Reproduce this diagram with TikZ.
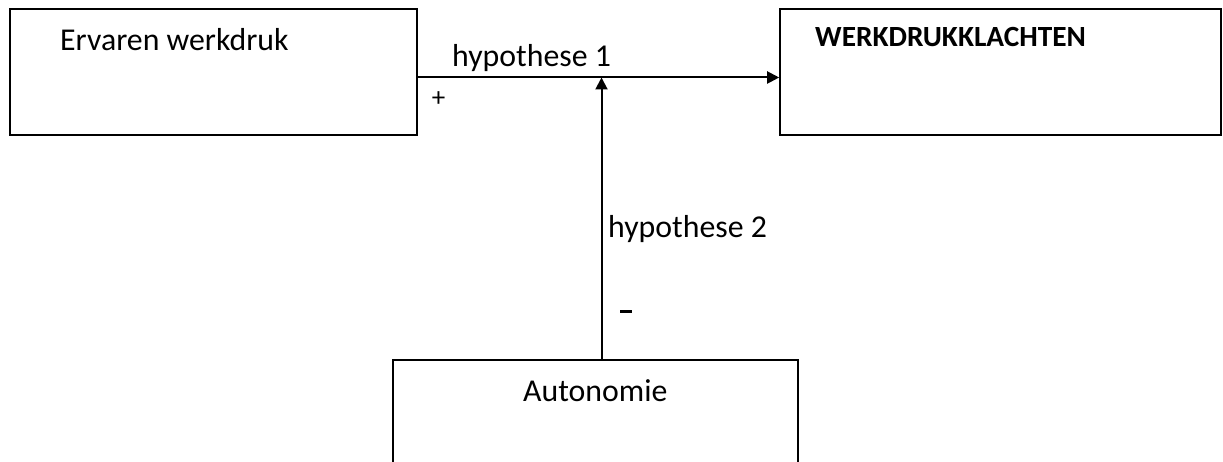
\documentclass[tikz,border=0pt]{standalone}
\usepackage{fontspec}
\setmainfont{Carlito}
\usetikzlibrary{arrows.meta}
\begin{document}
\begin{tikzpicture}[x=1pt,y=-1pt,
  box/.style={draw,line width=1.6pt,inner sep=0pt,rectangle},
  conn/.style={line width=2pt,-{Triangle[length=12pt,width=12pt]}},
  txt/.style={anchor=base west,inner sep=0pt,font=\fontsize{31.8}{38}\selectfont}]
\useasboundingbox (0,0) rectangle (1223,462);
\clip (0,0) rectangle (1223,462);
\node[box,minimum width=407pt,minimum height=126pt] (b1) at (213.5,72) {};
\node[box,minimum width=441pt,minimum height=126pt] (b2) at (1000.5,72) {};
\node[box,minimum width=405pt,minimum height=140pt] (b3) at (595.5,430) {};
\coordinate (h) at (601.5,77.5);
\draw[conn] (b1.east |- h) -- (b2.west |- h);
\draw[conn] (b3.north -| h) -- (h);
\node[txt] (t1) at (60,51) {Ervaren werkdruk};
\node[txt,font=\fontsize{29.3}{35}\selectfont\bfseries] (t2) at (815,47) {WERKDRUKKLACHTEN};
\node[txt] (t3) at (523,401) {Autonomie};
\node[txt] (t4) at (452,67) {hypothese 1};
\node[txt] (t5) at (608,238) {hypothese 2};
\node[anchor=center,inner sep=0pt,font=\fontsize{27}{32}\selectfont] (t6) at (438.5,99) {+};
\node[anchor=center,inner sep=0pt] (t7) at (626,311) {\rule{12pt}{3pt}};
\end{tikzpicture}
\end{document}
